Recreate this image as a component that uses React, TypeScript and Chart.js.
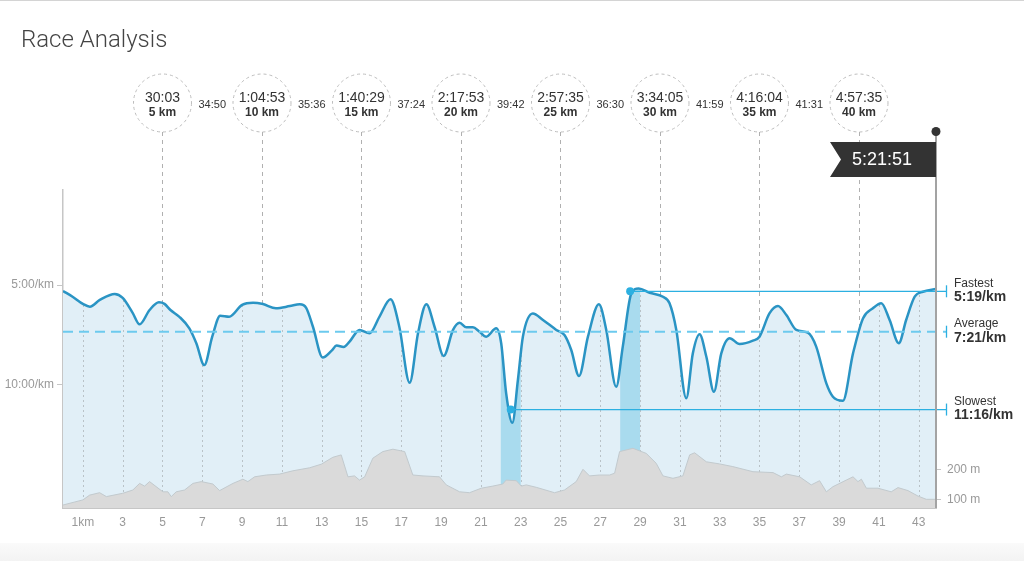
import React, { useEffect, useRef } from 'react';
import { Chart, registerables } from 'chart.js';

Chart.register(...registerables);

// ---------- data ----------
const paceKm = [
  0.0, 0.5, 1.0, 1.35, 1.85, 2.6, 3.0, 3.5, 3.85, 4.35, 4.82, 5.1, 5.4, 5.85, 6.35, 6.7, 7.1, 7.5, 7.9, 8.35,
  9.0, 9.55, 10.05, 10.7, 11.4, 11.9, 12.22, 12.56, 13.05, 13.5, 13.75, 14.1, 14.4, 14.9, 15.4, 15.9, 16.46, 16.9,
  17.42, 17.84, 18.26, 18.67, 19.13, 19.6, 19.93, 20.27, 20.6, 20.93, 21.27, 21.77, 22.02, 22.27, 22.58, 22.86,
  23.11, 23.61, 24.12, 24.79, 25.2, 25.54, 25.93, 26.38, 26.93, 27.3, 27.8, 28.13, 28.56, 28.93, 29.48, 30.15,
  30.48, 30.82, 31.32, 31.65, 31.99, 32.33, 32.71, 33.08, 33.5, 34.0, 34.67, 35.0, 35.5, 35.93, 36.35, 36.85,
  37.43, 37.85, 38.36, 38.69, 39.19, 39.7, 40.2, 40.7, 41.12, 41.54, 42.0, 42.37, 42.8, 43.21, 43.87,
];
const paceMin = [
  5.3, 5.6, 5.95, 6.09, 5.75, 5.45, 5.65, 6.4, 6.98, 6.26, 5.87, 5.95, 6.26, 6.6, 7.18, 7.93, 9.03, 7.6, 6.55, 6.6,
  6.0, 5.89, 5.96, 6.17, 6.06, 5.97, 6.15, 7.1, 8.65, 8.3, 8.05, 8.12, 7.85, 7.26, 7.43, 6.6, 5.72, 7.1,
  9.92, 7.43, 5.97, 7.1, 8.57, 7.26, 6.9, 7.13, 7.13, 7.35, 7.6, 7.18, 7.93, 10.45, 11.93, 9.78,
  7.6, 6.43, 6.76, 7.26, 7.52, 8.27, 9.58, 7.6, 5.97, 7.26, 10.12, 8.1, 5.42, 5.17, 5.39, 5.59,
  5.92, 7.26, 10.7, 8.44, 7.48, 8.61, 10.37, 8.44, 7.68, 7.97, 7.8, 7.6, 6.43, 6.06, 6.51, 7.26,
  7.4, 8.1, 9.95, 10.62, 10.82, 8.44, 6.68, 6.17, 5.92, 6.76, 7.93, 6.76, 5.59, 5.34, 5.2,
];
const elevKm = [
  0.0, 1.0, 1.34, 1.84, 2.18, 3.0, 3.51, 3.85, 4.1, 4.35, 5.02, 5.27, 5.44, 5.69, 6.11, 6.53, 6.95, 7.53, 7.87,
  8.54, 9.04, 9.29, 9.63, 10.22, 10.88, 11.55, 12.39, 12.98, 13.56, 13.98, 14.32, 14.65, 14.9, 15.16, 15.57,
  16.07, 16.58, 17.17, 17.58, 18.09, 18.92, 19.26, 19.93, 20.43, 21.02, 21.6, 22.1, 22.27, 22.78, 23.03, 23.28,
  23.78, 24.7, 25.2, 25.79, 26.13, 26.46, 26.96, 27.47, 27.72, 27.97, 28.64, 29.31, 29.81, 30.15, 30.65, 31.15,
  31.49, 31.74, 32.33, 32.99, 33.66, 34.67, 35.68, 36.1, 36.35, 37.02, 37.6, 38.02, 38.36, 38.69, 39.36, 39.7,
  39.95, 40.12, 40.37, 40.95, 41.62, 41.96, 42.46, 42.96, 43.38, 43.87,
];
const elevM = [
  81, 98, 114, 122, 109, 120, 131, 153, 144, 159, 125, 125, 109, 125, 131, 153, 159, 151, 129,
  153, 167, 159, 175, 181, 184, 195, 205, 217, 240, 248, 175, 178, 164, 175, 237,
  259, 267, 259, 181, 178, 175, 148, 125, 122, 137, 144, 151, 164, 162, 144, 148,
  140, 122, 131, 159, 200, 178, 181, 181, 187, 259, 270, 253, 220, 178, 170, 178,
  248, 255, 225, 218, 209, 192, 189, 175, 184, 175, 148, 162, 125, 142, 164, 175,
  159, 167, 137, 137, 125, 139, 129, 111, 100, 100,
];

const xTicks = [1, 3, 5, 7, 9, 11, 13, 15, 17, 19, 21, 23, 25, 27, 29, 31, 33, 35, 37, 39, 41, 43];
const paceTicks = [5, 10];
const elevTicks = [100, 200];

const splitKm = [5, 10, 15, 20, 25, 30, 35, 40];
const splitTimes = ['30:03', '1:04:53', '1:40:29', '2:17:53', '2:57:35', '3:34:05', '4:16:04', '4:57:35'];
const segmentTimes = ['34:50', '35:36', '37:24', '39:42', '36:30', '41:59', '41:31'];
const finishTime = '5:21:51';

const averagePace = 7 + 21 / 60;
const fastestKm = 28.5;
const fastestPace = 5 + 19 / 60;
const slowestKm = 22.5;
const slowestPace = 11 + 16 / 60;
const bandKm = [
  [22, 23],
  [28, 29],
];

const PACE_MIN = 0.22;
const PACE_MAX = 16.22;
const ELEV_MIN = 71;
const ELEV_MAX = 1131;
const X_MAX = paceKm[paceKm.length - 1];

// ---------- styles ----------
const FONT = '"Liberation Sans", Arial, sans-serif';
const AREA_COLOR = '#e1eff7';
const BAND_COLOR = '#a9dbee';
const LINE_COLOR = '#2a94c4';
const MARK_COLOR = '#2cb0e1';
const CIRCLE_Y = 103;
const CIRCLE_R = 29;

function fmtPace(v: number) {
  let m = Math.floor(v);
  let s = Math.round((v - m) * 60);
  if (s === 60) {
    m += 1;
    s = 0;
  }
  return `${m}:${String(s).padStart(2, '0')}`;
}

const raceOverlay = {
  id: 'raceOverlay',
  beforeDatasetsDraw(chart: any) {
    const { ctx, chartArea, scales } = chart;
    const x = scales.x;
    ctx.save();
    ctx.strokeStyle = '#b0b0b0';
    ctx.lineWidth = 1;
    ctx.setLineDash([4, 4]);
    splitKm.forEach((km) => {
      const px = Math.round(x.getPixelForValue(km)) + 0.5;
      ctx.beginPath();
      ctx.moveTo(px, CIRCLE_Y + CIRCLE_R);
      ctx.lineTo(px, chartArea.bottom);
      ctx.stroke();
    });
    ctx.restore();
  },
  afterDatasetDraw(chart: any, args: any) {
    if (args.index !== 0) return;
    const { ctx, chartArea, scales } = chart;
    const x = scales.x;
    const line = chart.getDatasetMeta(0).dataset;
    if (!line) return;
    line.updateControlPoints(chartArea, 'x');
    const pts = line.points;
    ctx.save();
    ctx.beginPath();
    line.path(ctx);
    ctx.lineTo(pts[pts.length - 1].x, chartArea.bottom);
    ctx.lineTo(pts[0].x, chartArea.bottom);
    ctx.closePath();
    ctx.clip();
    // highlighted km bands
    ctx.fillStyle = BAND_COLOR;
    bandKm.forEach(([a, b]) => {
      const xa = x.getPixelForValue(a);
      const xb = x.getPixelForValue(b);
      ctx.fillRect(xa, chartArea.top, xb - xa, chartArea.bottom - chartArea.top);
    });
    // dotted km grid
    ctx.strokeStyle = '#b9c2c7';
    ctx.lineWidth = 1;
    ctx.setLineDash([2, 3]);
    xTicks.forEach((km) => {
      const px = Math.round(x.getPixelForValue(km)) + 0.5;
      ctx.beginPath();
      ctx.moveTo(px, chartArea.top);
      ctx.lineTo(px, chartArea.bottom);
      ctx.stroke();
    });
    ctx.restore();
  },
  afterDatasetsDraw(chart: any) {
    const { ctx, chartArea, scales } = chart;
    const x = scales.x;
    const y = scales.y;
    const poleX = x.getPixelForValue(X_MAX);
    const endX = poleX + 10.5;
    const labelX = poleX + 18;

    ctx.save();
    // average line
    const avgY = y.getPixelForValue(averagePace);
    ctx.strokeStyle = '#6ccaee';
    ctx.lineWidth = 2;
    ctx.setLineDash([10, 6]);
    ctx.beginPath();
    ctx.moveTo(chartArea.left, avgY);
    ctx.lineTo(endX, avgY);
    ctx.stroke();
    ctx.setLineDash([]);

    // fastest / slowest lines
    ctx.strokeStyle = MARK_COLOR;
    ctx.lineWidth = 1.3;
    const marks = [
      { km: fastestKm, pace: fastestPace },
      { km: slowestKm, pace: slowestPace },
    ];
    marks.forEach((m) => {
      const px = x.getPixelForValue(m.km);
      const py = y.getPixelForValue(m.pace);
      ctx.beginPath();
      ctx.moveTo(px, py);
      ctx.lineTo(endX, py);
      ctx.stroke();
    });
    // ticks at end
    [fastestPace, averagePace, slowestPace].forEach((p) => {
      const py = y.getPixelForValue(p);
      ctx.beginPath();
      ctx.moveTo(endX, py - 6);
      ctx.lineTo(endX, py + 6);
      ctx.stroke();
    });
    // dots
    ctx.fillStyle = MARK_COLOR;
    marks.forEach((m) => {
      ctx.beginPath();
      ctx.arc(x.getPixelForValue(m.km), y.getPixelForValue(m.pace), 4, 0, Math.PI * 2);
      ctx.fill();
    });

    // labels
    const labels = [
      { name: 'Fastest', pace: fastestPace },
      { name: 'Average', pace: averagePace },
      { name: 'Slowest', pace: slowestPace },
    ];
    ctx.textAlign = 'left';
    ctx.textBaseline = 'middle';
    ctx.fillStyle = '#333';
    labels.forEach((l) => {
      const py = y.getPixelForValue(l.pace);
      ctx.font = `12px ${FONT}`;
      ctx.fillText(l.name, labelX, py - 8);
      ctx.font = `bold 14px ${FONT}`;
      ctx.fillText(fmtPace(l.pace) + '/km', labelX, py + 6);
    });

    // finish pole & flag
    const dotY = 131.5;
    ctx.strokeStyle = '#a3a3a3';
    ctx.lineWidth = 2;
    ctx.beginPath();
    ctx.moveTo(poleX, dotY);
    ctx.lineTo(poleX, chartArea.bottom);
    ctx.stroke();
    ctx.fillStyle = '#333';
    ctx.beginPath();
    ctx.arc(poleX, dotY, 4.5, 0, Math.PI * 2);
    ctx.fill();
    const fTop = 142;
    const fBot = 177;
    const fW = 106;
    const notch = 11;
    ctx.fillStyle = '#333';
    ctx.beginPath();
    ctx.moveTo(poleX, fTop);
    ctx.lineTo(poleX - fW, fTop);
    ctx.lineTo(poleX - fW + notch, (fTop + fBot) / 2);
    ctx.lineTo(poleX - fW, fBot);
    ctx.lineTo(poleX, fBot);
    ctx.closePath();
    ctx.fill();
    ctx.fillStyle = '#fff';
    ctx.font = `18px ${FONT}`;
    ctx.textAlign = 'center';
    ctx.fillText(finishTime, poleX - 54, (fTop + fBot) / 2 + 1);

    // split circles
    splitKm.forEach((km, i) => {
      const cx = x.getPixelForValue(km);
      ctx.fillStyle = '#fff';
      ctx.beginPath();
      ctx.arc(cx, CIRCLE_Y, CIRCLE_R, 0, Math.PI * 2);
      ctx.fill();
      ctx.strokeStyle = '#bdbdbd';
      ctx.lineWidth = 1;
      ctx.setLineDash([3, 3]);
      ctx.stroke();
      ctx.setLineDash([]);
      ctx.fillStyle = '#333';
      ctx.textAlign = 'center';
      ctx.font = `14px ${FONT}`;
      ctx.fillText(splitTimes[i], cx, CIRCLE_Y - 4.5);
      ctx.font = `bold 12px ${FONT}`;
      ctx.fillText(`${km} km`, cx, CIRCLE_Y + 10);
    });
    ctx.font = `11px ${FONT}`;
    ctx.fillStyle = '#333';
    segmentTimes.forEach((t, i) => {
      const mid = (splitKm[i] + splitKm[i + 1]) / 2;
      ctx.fillText(t, x.getPixelForValue(mid), CIRCLE_Y + 1.5);
    });

    // title
    ctx.textAlign = 'left';
    ctx.textBaseline = 'alphabetic';
    ctx.fillStyle = '#444';
    ctx.font = `300 24px Roboto, ${FONT}`;
    ctx.fillText('Race Analysis', 21, 47);
    ctx.restore();
  },
};

export default function App() {
  const ref = useRef<HTMLCanvasElement>(null);

  useEffect(() => {
    const canvas = ref.current;
    if (!canvas) return;
    Chart.defaults.font.family = FONT;
    Chart.defaults.font.size = 12;
    Chart.defaults.color = '#999';

    const areaData = paceKm.map((k, i) => ({ x: k, y: paceMin[i] }));
    const lineData = paceKm.map((k, i) => ({ x: k, y: paceMin[i] }));
    const elevData = elevKm.map((k, i) => ({ x: k, y: elevM[i] }));

    const chart = new Chart(canvas, {
      type: 'line',
      data: {
        datasets: [
          {
            label: 'paceArea',
            data: areaData,
            yAxisID: 'y',
            order: 3,
            borderWidth: 0,
            borderColor: 'rgba(0,0,0,0)',
            backgroundColor: AREA_COLOR,
            fill: { value: PACE_MAX },
            pointRadius: 0,
            cubicInterpolationMode: 'monotone',
          },
          {
            label: 'elevation',
            data: elevData,
            yAxisID: 'elev',
            order: 2,
            borderWidth: 1,
            borderColor: '#c2cace',
            backgroundColor: '#dadada',
            fill: 'start',
            pointRadius: 0,
            tension: 0,
          },
          {
            label: 'pace',
            data: lineData,
            yAxisID: 'y',
            order: 1,
            borderWidth: 2.5,
            borderColor: LINE_COLOR,
            fill: false,
            pointRadius: 0,
            cubicInterpolationMode: 'monotone',
          },
        ],
      } as any,
      options: {
        responsive: false,
        animation: false,
        events: [],
        layout: { padding: { top: 190, left: 0, right: 0, bottom: 0 } },
        plugins: {
          legend: { display: false },
          tooltip: { enabled: false },
          title: { display: false },
        },
        scales: {
          x: {
            type: 'linear',
            min: 0,
            max: X_MAX,
            afterBuildTicks: (s: any) => {
              s.ticks = xTicks.map((v) => ({ value: v }));
            },
            afterFit: (s: any) => {
              s.height = 53;
            },
            ticks: {
              autoSkip: false,
              maxRotation: 0,
              padding: 7,
              color: '#999',
              font: { size: 12, family: FONT },
              callback: (v: any) => (Number(v) === 1 ? '1km' : String(v)),
            },
            grid: { display: false, drawTicks: false },
            border: { display: true, color: '#c6c6c6', width: 2 },
          },
          y: {
            type: 'linear',
            position: 'left',
            reverse: true,
            min: PACE_MIN,
            max: PACE_MAX,
            afterBuildTicks: (s: any) => {
              s.ticks = paceTicks.map((v) => ({ value: v }));
            },
            afterFit: (s: any) => {
              s.width = 63;
            },
            ticks: {
              padding: 3,
              color: '#999',
              font: { size: 12, family: FONT },
              callback: (v: any) => fmtPace(Number(v)) + '/km',
            },
            grid: { drawOnChartArea: false, drawTicks: true, tickLength: 6, color: '#c6c6c6' },
            border: { display: true, color: '#c6c6c6', width: 1.5 },
          },
          elev: {
            type: 'linear',
            position: 'right',
            min: ELEV_MIN,
            max: ELEV_MAX,
            afterBuildTicks: (s: any) => {
              s.ticks = elevTicks.map((v) => ({ value: v }));
            },
            afterFit: (s: any) => {
              s.width = 88;
            },
            ticks: {
              padding: 6,
              color: '#999',
              font: { size: 12, family: FONT },
              callback: (v: any) => `${v} m`,
            },
            grid: { drawOnChartArea: false, drawTicks: true, tickLength: 5, color: '#c6c6c6' },
            border: { display: false },
          },
        },
      } as any,
      plugins: [raceOverlay],
    });

    return () => chart.destroy();
  }, []);

  return (
    <div
      style={{
        position: 'absolute',
        left: 0,
        top: 0,
        width: 1024,
        height: 561,
        background: '#fff',
        overflow: 'hidden',
      }}
    >
      <div style={{ position: 'absolute', left: 0, top: 0, width: 1024, height: 1, background: '#d4d4d4' }} />
      <div
        style={{
          position: 'absolute',
          left: 0,
          top: 543,
          width: 1024,
          height: 18,
          background: 'linear-gradient(to bottom, #fafafa, #f3f3f3)',
        }}
      />
      <canvas ref={ref} width={1024} height={561} style={{ position: 'absolute', left: 0, top: 0 }} />
    </div>
  );
}
